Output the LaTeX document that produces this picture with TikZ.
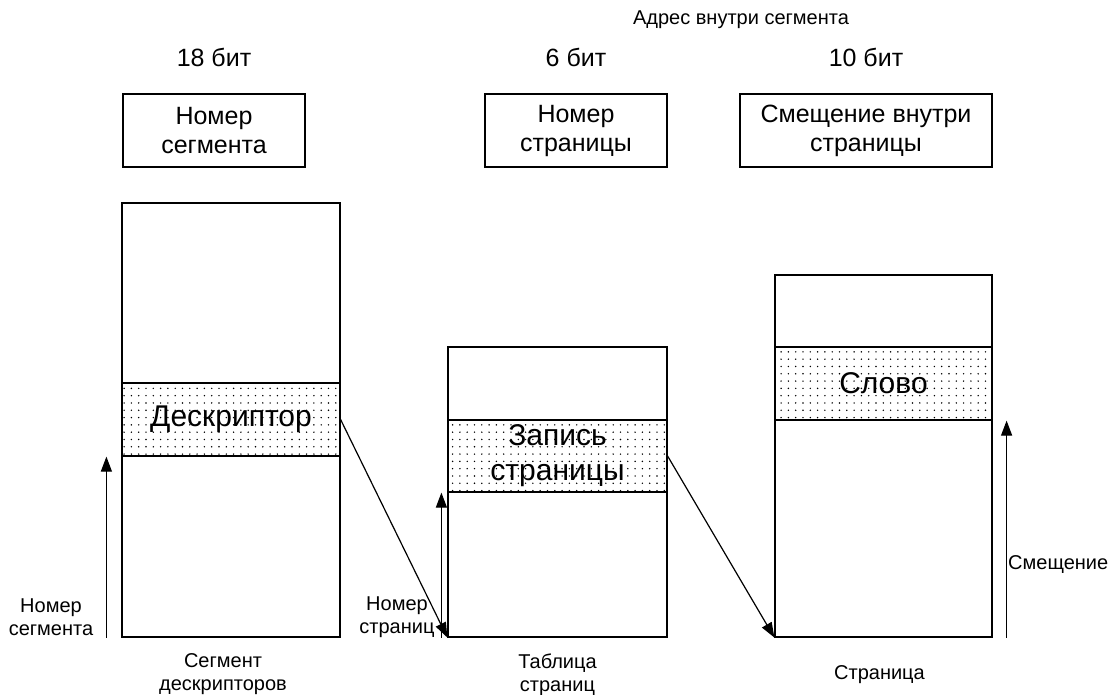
\documentclass[tikz,border=0pt]{standalone}
\usepackage{fontspec}
\setmainfont{Liberation Sans}
\usetikzlibrary{arrows.meta, positioning, patterns.meta}

\begin{document}
\begin{tikzpicture}[
    x=1pt, y=-1pt,
    every node/.style={align=center, inner sep=0pt},
    fieldbox/.style={rectangle, draw, line width=1.2pt, minimum width=182pt, minimum height=73pt, font=\fontsize{25}{29}\selectfont},
    tablebox/.style={rectangle, draw, fill=white, line width=1.2pt, minimum width=218pt},
    entrybox/.style={rectangle, draw, line width=1.2pt, minimum width=218pt, minimum height=73pt, pattern={Dots[distance=7.3pt, radius=0.8pt]}, font=\fontsize{30}{35}\selectfont},
    biglabel/.style={font=\fontsize{25}{29}\selectfont},
    smalllabel/.style={font=\fontsize{20}{23}\selectfont},
    arrow/.style={-{Triangle[length=15pt, width=11pt]}, line width=1.2pt}
  ]
    \useasboundingbox (0,0) rectangle (1112,695);

    % Address fields
    \node[smalllabel] (addr) at (741,20) {Адрес внутри сегмента};
    \node[fieldbox] (segnum) at (214,130.5) {Номер\\сегмента};
    \node[fieldbox] (pgnum) at (576,130.5) {Номер\\страницы};
    \node[fieldbox, minimum width=252pt] (offs) at (866,130.5) {Смещение внутри\\страницы};
    \node[biglabel, above=26pt of segnum] (bits18) {18 бит};
    \node[biglabel, above=26pt of pgnum] (bits6) {6 бит};
    \node[biglabel, above=26pt of offs] (bits10) {10 бит};

    % Segment descriptor table
    \node[tablebox, minimum height=434pt] (segtab) at (231,420) {};
    \node[entrybox] (descr) at (231,419.5) {Дескриптор};
    \node[smalllabel, below=16pt of segtab, xshift=-8pt] (segtablbl) {Сегмент\\дескрипторов};

    % Page table
    \node[tablebox, minimum width=219pt, minimum height=290pt] (pgtab) at (557.5,492) {};
    \node[entrybox, minimum width=219pt, minimum height=72pt] (pgentry) at (557.5,456) {Запись\\страницы};
    \node[smalllabel, below=16pt of pgtab] (pgtablbl) {Таблица\\страниц};

    % Page
    \node[tablebox, minimum width=217pt, minimum height=362pt] (page) at (883.5,456) {};
    \node[entrybox, minimum width=217pt] (word) at (883.5,383.5) {Слово};
    \node[smalllabel, below=28pt of page, xshift=-4pt] (pagelbl) {Страница};

    % Index labels
    \node[smalllabel] (segidxlbl) at (51,617) {Номер\\сегмента};
    \node[smalllabel] (pgidxlbl) at (397,617) {Номер\\страниц};
    \node[smalllabel, anchor=west] (offlbl) at (1008,565) {Смещение};

    % Index arrows
    \coordinate (segidx) at ([xshift=-15pt]segtab.south west);
    \coordinate (pgidx) at ([xshift=-6pt]pgtab.south west);
    \coordinate (offidx) at ([xshift=14pt]page.south east);
    \draw[arrow] (segidx) -- (segidx |- descr.south);
    \draw[arrow] (pgidx) -- (pgidx |- pgentry.south);
    \draw[arrow] (offidx) -- (offidx |- word.south);

    % Connections
    \draw[arrow] (descr.east) -- (pgtab.south west);
    \draw[arrow] (pgentry.east) -- (page.south west);
\end{tikzpicture}
\end{document}
